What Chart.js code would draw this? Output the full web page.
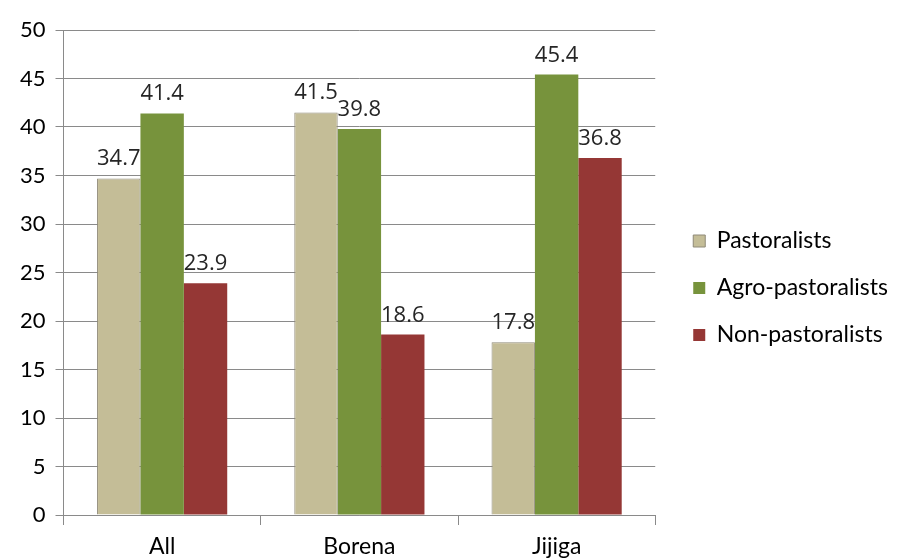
<!DOCTYPE html>
<html>
<head>
<meta charset="utf-8">
<script src="https://cdn.jsdelivr.net/npm/chart.js@4"></script>
<style>
  body { margin: 0; background: #fff; }
</style>
</head>
<body>
<canvas id="Chart" width="898" height="559"></canvas>
<script>
/* chart data */
const categories = ['All', 'Borena', 'Jijiga'];
const pastoralists = [34.7, 41.5, 17.8];
const agroPastoralists = [41.4, 39.8, 45.4];
const nonPastoralists = [23.9, 18.6, 36.8];
const yTicks = [0, 5, 10, 15, 20, 25, 30, 35, 40, 45, 50];

/* draws the value above every bar */
const barLabels = {
    id: 'barLabels',
    afterDatasetsDraw(chart) {
        const ctx = chart.ctx;
        ctx.save();
        ctx.font = '22px "Open Sans"';
        ctx.fillStyle = '#262626';
        ctx.textAlign = 'center';
        ctx.textBaseline = 'alphabetic';
        chart.data.datasets.forEach((ds, i) => {
            chart.getDatasetMeta(i).data.forEach((bar, j) => {
                ctx.fillText(ds.data[j].toFixed(1), bar.x, bar.y - 13);
            });
        });
        ctx.restore();
    }
};

const gridGray = '#8a8a8a';

const ctx = document.getElementById('Chart').getContext('2d');
const myChart = new Chart(ctx, {
    type: 'bar',
    data: {
        labels: categories,
        datasets: [{
            label: 'Pastoralists',
            data: pastoralists,
            backgroundColor: '#C4BD97',
            borderColor: '#8f8a78',
            borderWidth: 1
        }, {
            label: 'Agro-pastoralists',
            data: agroPastoralists,
            backgroundColor: '#77933C',
            borderWidth: 0
        }, {
            label: 'Non-pastoralists',
            data: nonPastoralists,
            backgroundColor: '#953735',
            borderWidth: 0
        }]
    },
    options: {
        responsive: false,
        animation: false,
        datasets: {
            bar: {
                categoryPercentage: 0.66,
                barPercentage: 1.0
            }
        },
        layout: {
            padding: { left: 10, top: 30, right: 0, bottom: 0 }
        },
        scales: {
            x: {
                grid: {
                    display: true,
                    drawOnChartArea: false,
                    offset: true,
                    tickLength: 10,
                    color: gridGray
                },
                border: { display: true, color: gridGray },
                ticks: {
                    color: '#000',
                    padding: 8,
                    font: { family: 'Lato', size: 23 }
                },
                afterFit(scale) {
                    scale.height = 44;
                }
            },
            y: {
                min: 0,
                max: 50,
                afterBuildTicks(scale) {
                    scale.ticks = yTicks.map(v => ({ value: v }));
                },
                grid: {
                    color: gridGray,
                    tickLength: 8
                },
                border: { display: true, color: gridGray },
                ticks: {
                    color: '#000',
                    padding: 10,
                    font: { family: 'Lato', size: 22 }
                }
            },
            yRight: {
                type: 'linear',
                position: 'right',
                grid: { display: false },
                border: { display: false },
                ticks: { display: false },
                afterFit(scale) {
                    scale.width = 14;
                }
            }
        },
        plugins: {
            legend: {
                position: 'right',
                align: 'start',
                maxWidth: 320,
                title: {
                    display: true,
                    text: ' ',
                    font: { size: 10 },
                    padding: { top: 0, bottom: 163.5 }
                },
                labels: {
                    boxWidth: 12,
                    boxHeight: 12,
                    padding: 24,
                    color: '#000',
                    font: { family: 'Lato', size: 23 }
                }
            },
            tooltip: { enabled: false }
        }
    },
    plugins: [barLabels]
});
</script>
</body>
</html>
